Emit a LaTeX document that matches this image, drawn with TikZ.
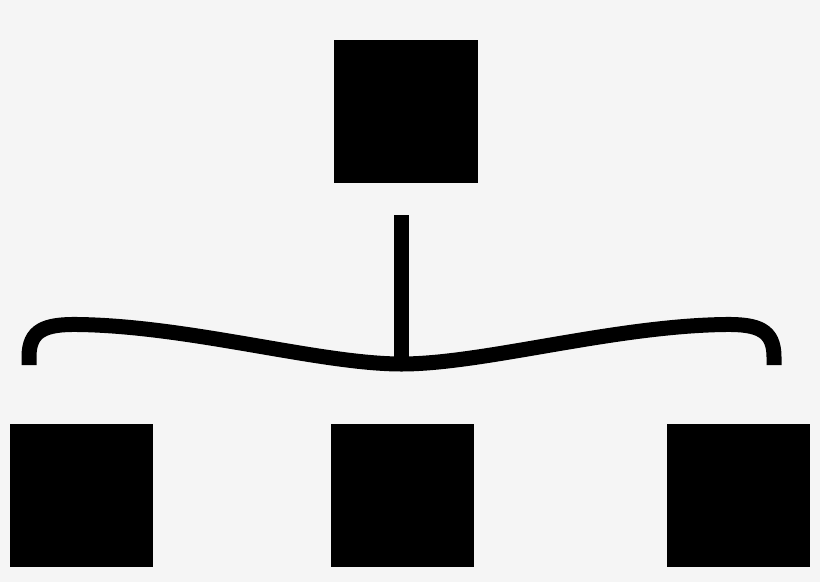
\documentclass[tikz,border=0pt]{standalone}
\definecolor{bg}{HTML}{F5F5F5}
\begin{document}
\begin{tikzpicture}[x=1pt,y=-1pt,
  sq/.style={fill=black,draw=none,inner sep=0pt,minimum width=143.5pt,minimum height=143pt},
  conn/.style={line width=15pt,line cap=butt,black}]
\fill[bg] (0,0) rectangle (820,582);
\useasboundingbox (0,0) rectangle (820,582);
\node[sq] (top) at (406,111.5) {};
\node[sq] (bl) at (81.5,495.5) {};
\node[sq] (bm) at (402.5,495.5) {};
\node[sq] (br) at (738.5,495.5) {};
\coordinate (vt) at (401.5,215);
\coordinate (mid) at (401.5,364);
\coordinate (lend) at (29,365);
\coordinate (rend) at (774,365);
\draw[conn] (vt) -- (mid);
\draw[conn] (lend) -- (29,357) .. controls (29,330) and (45,324) .. (78,324.5)
  .. controls (190,326) and (320,364) .. (mid)
  .. controls (483,364) and (613,326) .. (725,324.5)
  .. controls (758,324) and (774,330) .. (774,357) -- (rend);
\end{tikzpicture}
\end{document}
